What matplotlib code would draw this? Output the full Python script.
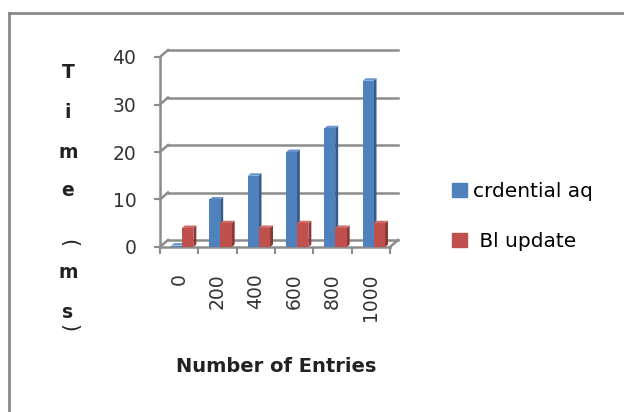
import numpy as np
import matplotlib.pyplot as plt
from matplotlib.patches import Polygon, Rectangle
from matplotlib.lines import Line2D

categories = ['0', '200', '400', '600', '800', '1000']
cred_aq = [0.3, 10, 15, 20, 25, 35]
bl_update = [4, 5, 4, 5, 4, 5]
series_names = ['crdential aq', ' Bl update']
yticks = [0, 10, 20, 30, 40]

W, H = 624, 412
blue, blue_side, blue_top = '#4F81BD', '#385D8A', '#6A95CC'
red, red_side, red_top = '#C0504D', '#8C3836', '#D06B68'
grid_c = '#8C8C8C'

plt.rcParams['font.family'] = ['DejaVu Sans']

def fx(px):
    return px / W

def fy(py):
    return 1 - py / H

fig = plt.figure(figsize=(W / 100, H / 100), dpi=100)
# plot area: front floor edge from x=160 to 390, value 0 at y=247, 40 at y=57
ax = fig.add_axes([fx(160), fy(247), fx(390) - fx(160), fy(57) - fy(247)])
n = len(categories)
ax.set_xlim(0, n)
ax.set_ylim(0, 40)

px_x = 230 / n          # pixels per category
px_y = 190 / 40         # pixels per unit
DX, DY = 8 / px_x, 7 / px_y          # floor depth
bdx, bdy = 3 / px_x, 2.5 / px_y      # bar depth

lw = 1.8
# back wall gridlines + left wall diagonals
for v in yticks:
    ax.add_line(Line2D([DX, n + DX], [v + DY, v + DY], color=grid_c, lw=lw, clip_on=False))
    ax.add_line(Line2D([0, DX], [v, v + DY], color=grid_c, lw=lw, clip_on=False))
# floor
ax.add_line(Line2D([0, n], [0, 0], color=grid_c, lw=lw, clip_on=False))
ax.add_line(Line2D([n, n + DX], [0, DY], color=grid_c, lw=lw, clip_on=False))
# front value axis
ax.add_line(Line2D([0, 0], [0, 40], color=grid_c, lw=lw, clip_on=False))

def draw_bar(x0, x1, h, front, side, top):
    ax.add_patch(Polygon([(x1, 0), (x1 + bdx, bdy), (x1 + bdx, h + bdy), (x1, h)],
                         closed=True, facecolor=side, edgecolor='none', clip_on=False, zorder=3))
    ax.add_patch(Polygon([(x0, h), (x1, h), (x1 + bdx, h + bdy), (x0 + bdx, h + bdy)],
                         closed=True, facecolor=top, edgecolor='none', clip_on=False, zorder=3))
    ax.bar(x0, h, width=x1 - x0, align='edge', color=front, edgecolor='none', zorder=3, clip_on=False)

for i in range(n):
    draw_bar(i + 0.29, i + 0.57, cred_aq[i], blue, blue_side, blue_top)
    draw_bar(i + 0.57, i + 0.87, bl_update[i], red, red_side, red_top)

for s in ax.spines.values():
    s.set_visible(False)
ax.set_facecolor('none')
ax.set_yticks(yticks)
ax.set_yticklabels([str(v) for v in yticks], fontsize=13.5, color='#333333')
ax.tick_params(axis='y', direction='out', length=4, width=1.5, color=grid_c, pad=13)
ax.set_xticks(np.arange(n) + 0.5)
ax.set_xticklabels(categories, rotation=90, fontsize=13.5, color='#333333', va='top')
ax.set_xticks(np.arange(n + 1), minor=True)
ax.tick_params(axis='x', which='major', length=0, pad=19)
ax.tick_params(axis='x', which='minor', direction='out', length=5, width=1.5, color=grid_c)

# axis titles
fig.text(fx(276), fy(366), 'Number of Entries', fontsize=14, fontweight='bold',
         ha='center', va='center', color='#222222')
# stacked y title, parentheses turned like Excel's vertical text
ylab = [('T', 73, 0), ('i', 112, 0), ('m', 152, 0), ('e', 191, 0),
        ('(', 243, 270), ('m', 272, 0), ('s', 312, 0), (')', 328, 270)]
for ch, yy, rot in ylab:
    if rot:
        fig.text(fx(68), fy(yy), ch, fontsize=15, rotation=rot,
                 ha='center', va='center', color='#222222')
    else:
        fig.text(fx(68), fy(yy), ch, fontsize=13.5, fontweight='bold',
                 ha='center', va='center', color='#222222')

# legend
handles = [Rectangle((0, 0), 1, 1, color=blue), Rectangle((0, 0), 1, 1, color=red)]
fig.legend(handles, series_names, loc='upper left', bbox_to_anchor=(fx(442), fy(172)),
           frameon=False, fontsize=14.5, handlelength=0.72, handleheight=0.72,
           handletextpad=0.3, labelspacing=1.55, borderpad=0)

# chart border
fig.add_artist(Line2D([fx(9), fx(9)], [fy(13), 0], color='#888888', lw=2))
fig.add_artist(Line2D([fx(9), 1], [fy(13), fy(13)], color='#888888', lw=2))

fig.savefig('out.png', dpi=100)
